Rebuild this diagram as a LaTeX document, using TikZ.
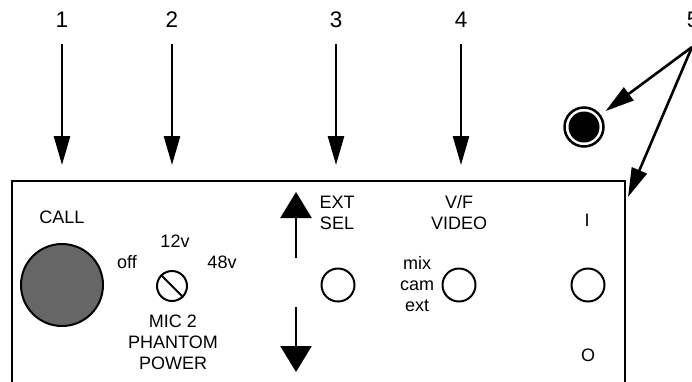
\documentclass[tikz,border=0pt]{standalone}
\usepackage{fontspec}
\setmainfont{Liberation Sans}
\usetikzlibrary{arrows.meta}
\definecolor{PnlInk}{HTML}{000000}
\definecolor{PnlGrey}{HTML}{666666}
\tikzset{
  pnltext/.style={
    font=\fontsize{18}{21}\selectfont,
    align=center,
    inner sep=0pt
  },
  pnlnum/.style={
    font=\fontsize{22.5}{26}\selectfont,
    inner sep=0pt
  },
  pnlknob/.style={
    draw=PnlInk,
    circle,
    line width=2pt,
    minimum size=33pt,
    inner sep=0pt
  },
  pnlcallout/.style={-{Triangle[width=16pt,length=29pt]},draw=PnlInk,line width=2.6pt},
  pnlselect/.style={-{Triangle[width=31pt,length=26pt]},draw=PnlInk,line width=2.6pt},
  pnledge/.style={draw=PnlInk,line width=2pt}
}

\begin{document}
\begin{tikzpicture}[x=1pt,y=-1pt]
  \useasboundingbox (0,0) rectangle (692,381);

  % callout numbers
  \node[pnlnum] (num1) at (62,20) {1};
  \node[pnlnum] (num2) at (172,20) {2};
  \node[pnlnum] (num3) at (336,20) {3};
  \node[pnlnum] (num4) at (461,20) {4};
  \node[pnlnum] (num5) at (693,20) {5};

  \coordinate (tip1) at (62,165);
  \coordinate (tip2) at (172,165);
  \coordinate (tip3) at (336,165);
  \coordinate (tip4) at (461,165);
  \coordinate (fork5) at (692,47);
  \coordinate (corner5) at (628,197);

  % panel outline, open at the bottom
  \draw[pnledge] (12,395) -- (12,181) -- (625,181) -- (625,395);

  % indicator lamp
  \node[circle,draw=PnlInk,line width=2.5pt,minimum size=39pt,inner sep=0pt] (lamp) at (584,127) {};
  \node[circle,fill=PnlInk,minimum size=31pt,inner sep=0pt] (lampcore) at (lamp.center) {};

  % call button
  \node[pnltext] (calllbl) at (62,217) {CALL};
  \node[pnlknob,fill=PnlGrey,minimum size=82pt] (callbtn) at (62,285) {};

  % phantom power
  \node[pnltext] (offlbl) at (127,262) {off};
  \node[pnltext] (twelvelbl) at (175,241) {12v};
  \node[pnltext] (fortylbl) at (222,262) {48v};
  \node[pnlknob,minimum size=30pt] (phantom) at (172,286) {};
  \draw[pnledge] (phantom.135) -- (phantom.-45);
  \node[pnltext] (phantomlbl) at (173,342) {MIC 2\\PHANTOM\\POWER};

  % ext select
  \node[pnltext] (extlbl) at (337,213) {EXT\\SEL};
  \node[pnlknob] (extbtn) at (338,285) {};
  \coordinate (selup) at (296,258);
  \coordinate (seldown) at (296,307);
  \draw[pnlselect] (selup) -- (296,192);
  \draw[pnlselect] (seldown) -- (296,372);

  % video
  \node[pnltext] (vflbl) at (459,213) {V/F\\VIDEO};
  \node[pnltext] (modelbl) at (417,284) {mix\\cam\\ext};
  \node[pnlknob] (vfbtn) at (459,285) {};

  % power
  \node[pnltext] (onlbl) at (587,220) {I};
  \node[pnlknob] (pwrbtn) at (588,285) {};
  \node[pnltext] (offpwrlbl) at (588,355) {O};

  \draw[pnlcallout,shorten <=16pt] (num1) -- (tip1);
  \draw[pnlcallout,shorten <=16pt] (num2) -- (tip2);
  \draw[pnlcallout,shorten <=16pt] (num3) -- (tip3);
  \draw[pnlcallout,shorten <=16pt] (num4) -- (tip4);
  \draw[pnlcallout,shorten >=6pt] (fork5) -- (lamp);
  \draw[pnlcallout] (fork5) -- (corner5);
\end{tikzpicture}
\end{document}
